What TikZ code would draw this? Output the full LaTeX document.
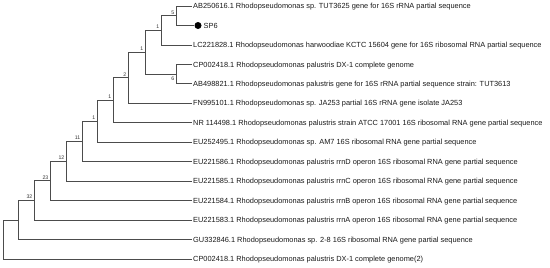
\documentclass[tikz,border=0pt]{standalone}
\usepackage{fontspec}
\setmainfont{Liberation Sans}
\begin{document}
\begin{tikzpicture}[x=1pt,y=-1pt,
  branch/.style={draw=black!70, line width=0.9pt},
  leaf/.style={anchor=west, inner xsep=1pt, inner ysep=0pt, text height=5.3pt, text depth=0pt, font=\fontsize{7.4}{9}\selectfont, text=black!90},
  boot/.style={font=\fontsize{5.2}{6}\selectfont, inner sep=0pt, text=black!80},
  bootup/.style={boot, anchor=south east, xshift=-1.5pt, yshift=1.5pt},
  bootdown/.style={boot, anchor=north east, xshift=-1.5pt, yshift=-2.5pt},
  tipdot/.style={circle, fill=black, inner sep=0pt, minimum size=7pt}]
\useasboundingbox (0,0) rectangle (550,268);
% leaves
\node[leaf] (t0) at (192,6) {AB250616.1 Rhodopseudomonas sp. TUT3625 gene for 16S rRNA partial sequence};
\node[tipdot] (dot) at (198,25.5) {};
\node[leaf] (t1) at (202.5,25.5) {SP6};
\node[leaf] (t2) at (192,45) {LC221828.1 Rhodopseudomonas harwoodiae KCTC 15604 gene for 16S ribosomal RNA partial sequence};
\node[leaf] (t3) at (192,64.4) {CP002418.1 Rhodopseudomonas palustris DX-1 complete genome};
\node[leaf] (t4) at (192,83.8) {AB498821.1 Rhodopseudomonas palustris gene for 16S rRNA partial sequence strain: TUT3613};
\node[leaf] (t5) at (192,103.3) {FN995101.1 Rhodopseudomonas sp. JA253 partial 16S rRNA gene isolate JA253};
\node[leaf] (t6) at (192,122.8) {NR 114498.1 Rhodopseudomonas palustris strain ATCC 17001 16S ribosomal RNA gene partial sequence};
\node[leaf] (t7) at (192,142.2) {EU252495.1 Rhodopseudomonas sp. AM7 16S ribosomal RNA gene partial sequence};
\node[leaf] (t8) at (192,161.7) {EU221586.1 Rhodopseudomonas palustris rrnD operon 16S ribosomal RNA gene partial sequence};
\node[leaf] (t9) at (192,181) {EU221585.1 Rhodopseudomonas palustris rrnC operon 16S ribosomal RNA gene partial sequence};
\node[leaf] (t10) at (192,200.6) {EU221584.1 Rhodopseudomonas palustris rrnB operon 16S ribosomal RNA gene partial sequence};
\node[leaf] (t11) at (192,220) {EU221583.1 Rhodopseudomonas palustris rrnA operon 16S ribosomal RNA gene partial sequence};
\node[leaf] (t12) at (192,239.5) {GU332846.1 Rhodopseudomonas sp. 2-8 16S ribosomal RNA gene partial sequence};
\node[leaf] (t13) at (192,259) {CP002418.1 Rhodopseudomonas palustris DX-1 complete genome(2)};
% internal nodes
\coordinate (nA) at (176,15.75);
\coordinate (nB) at (161,30.4);
\coordinate (nC) at (176,74.1);
\coordinate (nD) at (145,52.25);
\coordinate (nE) at (128,77.8);
\coordinate (nF) at (113,100.3);
\coordinate (nG) at (97,121.2);
\coordinate (nH) at (82,141.5);
\coordinate (nI) at (66,161.3);
\coordinate (nJ) at (50,180.9);
\coordinate (nK) at (34,200.5);
\coordinate (nL) at (18,220);
\coordinate (nR) at (3,239.5);
% branches
\draw[branch] (nA) |- (t0.west);
\draw[branch] (nA) |- (dot.west);
\draw[branch] (nB) |- (nA);
\draw[branch] (nB) |- (t2.west);
\draw[branch] (nC) |- (t3.west);
\draw[branch] (nC) |- (t4.west);
\draw[branch] (nD) |- (nB);
\draw[branch] (nD) |- (nC);
\draw[branch] (nE) |- (nD);
\draw[branch] (nE) |- (t5.west);
\draw[branch] (nF) |- (nE);
\draw[branch] (nF) |- (t6.west);
\draw[branch] (nG) |- (nF);
\draw[branch] (nG) |- (t7.west);
\draw[branch] (nH) |- (nG);
\draw[branch] (nH) |- (t8.west);
\draw[branch] (nI) |- (nH);
\draw[branch] (nI) |- (t9.west);
\draw[branch] (nJ) |- (nI);
\draw[branch] (nJ) |- (t10.west);
\draw[branch] (nK) |- (nJ);
\draw[branch] (nK) |- (t11.west);
\draw[branch] (nL) |- (nK);
\draw[branch] (nL) |- (t12.west);
\draw[branch] (nR) |- (nL);
\draw[branch] (nR) |- (t13.west);
% bootstrap values
\node[bootup] (bA) at (nA) {5};
\node[bootup] (bB) at (nB) {1};
\node[bootdown] (bC) at (nC) {6};
\node[bootup] (bD) at (nD) {1};
\node[bootup] (bE) at (nE) {2};
\node[bootup] (bF) at (nF) {1};
\node[bootup] (bG) at (nG) {1};
\node[bootup] (bH) at (nH) {11};
\node[bootup] (bI) at (nI) {12};
\node[bootup] (bJ) at (nJ) {23};
\node[bootup] (bK) at (nK) {32};
\end{tikzpicture}
\end{document}
